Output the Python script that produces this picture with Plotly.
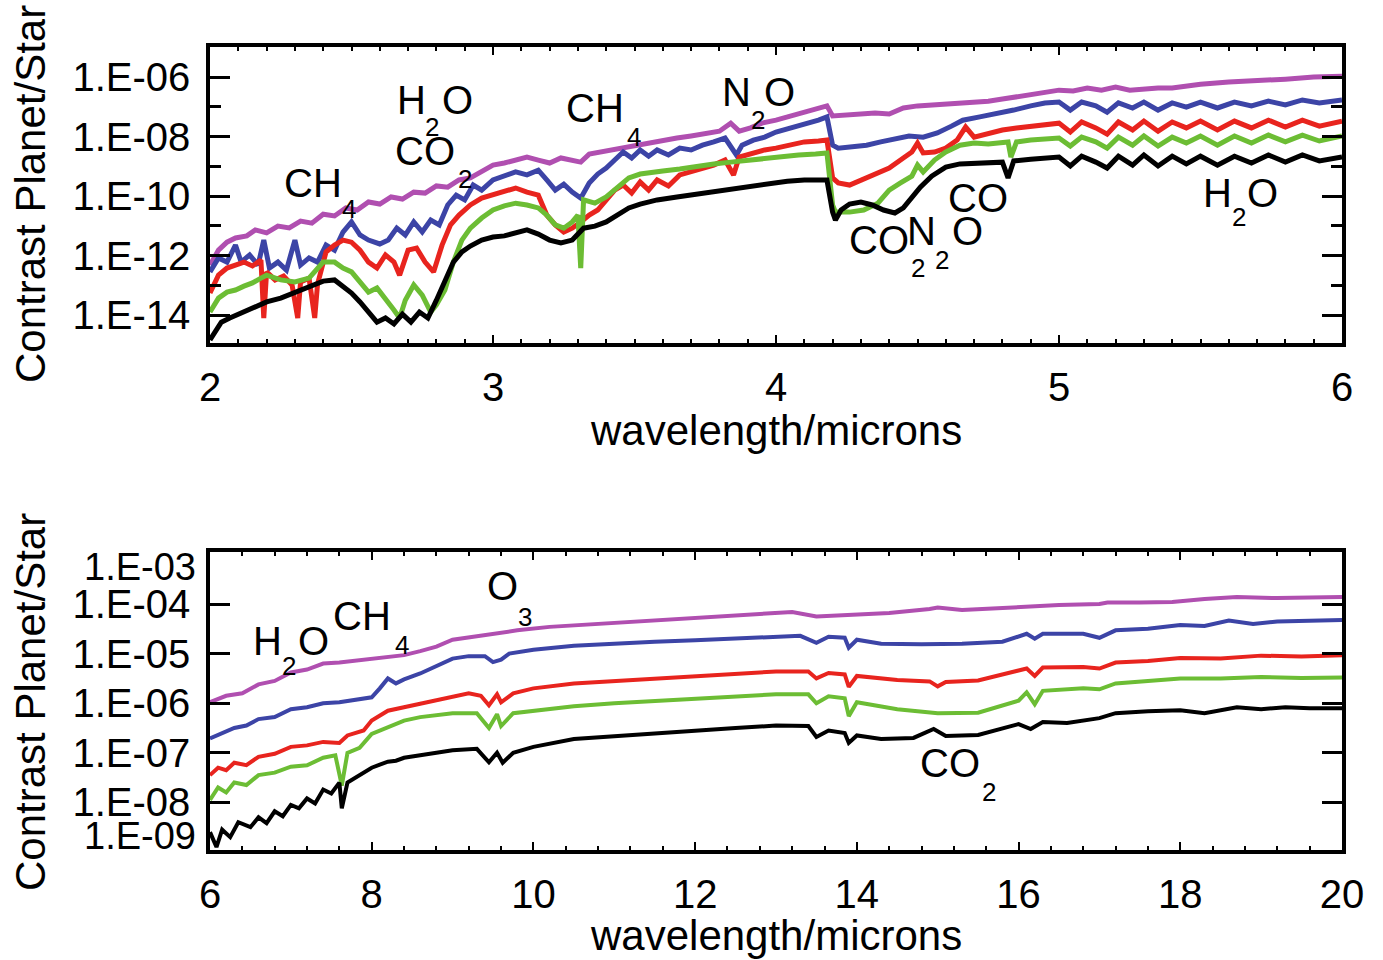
import plotly.graph_objects as go

W, H = 1383, 960
FONT = "Liberation Sans, Arial, Helvetica, sans-serif"

# ---------------- Top panel (2-6 micron): wavelength [micron], log10(contrast) ----------------
top_purple_wl = [2.00,2.03,2.06,2.09,2.13,2.16,2.20,2.24,2.28,2.32,2.36,2.40,2.44,2.48,2.52,2.56,2.60,2.64,2.68,2.72,
                 2.76,2.80,2.84,2.88,2.92,2.96,3.00,3.04,3.08,3.12,3.16,3.20,3.24,3.28,3.31,3.34,3.38,3.42,3.46,3.50,
                 3.55,3.60,3.65,3.70,3.75,3.80,3.84,3.87,3.91,3.95,4.00,4.05,4.10,4.15,4.18,4.20,4.25,4.30,4.35,4.40,
                 4.45,4.50,4.55,4.60,4.65,4.70,4.75,4.80,4.85,4.90,4.95,5.00,5.05,5.10,5.15,5.20,5.25,5.30,5.35,5.40,
                 5.45,5.50,5.60,5.70,5.80,5.90,6.00]
top_purple_log = [-12.32,-11.82,-11.55,-11.41,-11.34,-11.14,-11.24,-11.01,-11.07,-10.84,-10.91,-10.61,-10.67,-10.40,-10.47,-10.20,-10.27,-10.03,-10.10,-9.87,
                  -9.90,-9.66,-9.70,-9.46,-9.39,-9.19,-8.96,-8.89,-8.79,-8.69,-8.79,-8.89,-8.72,-8.79,-8.86,-8.59,-8.52,-8.42,-8.35,-8.29,
                  -8.22,-8.12,-8.05,-7.98,-7.88,-7.82,-7.55,-7.82,-7.71,-7.55,-7.45,-7.31,-7.21,-7.04,-6.97,-7.31,-7.28,-7.21,-7.21,-7.24,
                  -7.04,-6.97,-6.94,-6.94,-6.91,-6.87,-6.81,-6.74,-6.67,-6.57,-6.50,-6.44,-6.47,-6.37,-6.44,-6.34,-6.44,-6.40,-6.37,-6.37,
                  -6.30,-6.24,-6.17,-6.13,-6.07,-6.00,-5.97]

top_blue_wl = [2.00,2.03,2.06,2.09,2.11,2.14,2.17,2.19,2.21,2.24,2.27,2.30,2.32,2.35,2.38,2.41,2.44,2.47,2.50,2.53,
               2.56,2.60,2.63,2.66,2.69,2.72,2.75,2.78,2.81,2.84,2.87,2.90,2.93,2.96,3.00,3.04,3.08,3.12,3.16,3.19,
               3.22,3.25,3.28,3.31,3.34,3.37,3.40,3.43,3.46,3.49,3.52,3.55,3.58,3.62,3.66,3.70,3.74,3.78,3.82,3.86,
               3.88,3.92,3.96,4.00,4.05,4.10,4.15,4.18,4.20,4.22,4.27,4.32,4.37,4.42,4.47,4.52,4.57,4.62,4.66,4.72,
               4.78,4.84,4.90,4.95,5.00,5.04,5.08,5.13,5.17,5.21,5.26,5.30,5.35,5.40,5.45,5.50,5.56,5.62,5.68,5.74,
               5.80,5.86,5.92,6.00]
top_blue_log = [-12.55,-12.08,-12.22,-11.65,-12.22,-11.98,-12.32,-11.48,-12.42,-12.22,-12.49,-11.48,-12.32,-12.08,-12.22,-11.65,-11.82,-11.21,-10.87,-11.31,
                -11.48,-11.61,-11.48,-11.08,-11.31,-10.87,-11.21,-10.81,-10.97,-10.30,-9.97,-10.13,-9.63,-9.80,-9.46,-9.33,-9.19,-9.29,-9.13,-9.46,
                -9.80,-9.60,-9.87,-10.07,-9.56,-9.26,-9.06,-8.79,-8.52,-8.72,-8.45,-8.66,-8.45,-8.62,-8.39,-8.45,-8.29,-8.18,-8.05,-8.62,
                -8.29,-8.12,-8.02,-7.85,-7.71,-7.61,-7.45,-7.34,-8.29,-8.39,-8.35,-8.29,-8.18,-8.08,-7.98,-8.02,-7.88,-7.65,-7.45,-7.34,
                -7.24,-7.11,-6.97,-6.87,-6.84,-7.11,-6.84,-6.97,-7.18,-6.87,-7.04,-6.84,-7.11,-6.87,-7.01,-6.84,-7.04,-6.84,-6.97,-6.81,
                -6.94,-6.77,-6.87,-6.77]

top_red_wl = [2.00,2.03,2.06,2.09,2.12,2.15,2.18,2.19,2.20,2.23,2.26,2.29,2.31,2.32,2.35,2.37,2.38,2.41,2.44,2.47,
              2.50,2.53,2.56,2.59,2.62,2.65,2.67,2.70,2.73,2.76,2.79,2.82,2.85,2.88,2.92,2.96,3.00,3.04,3.08,3.12,
              3.16,3.19,3.22,3.25,3.28,3.31,3.34,3.37,3.40,3.43,3.46,3.49,3.52,3.55,3.58,3.62,3.66,3.70,3.74,3.78,
              3.82,3.85,3.87,3.92,3.96,4.00,4.05,4.10,4.15,4.18,4.20,4.22,4.26,4.30,4.35,4.40,4.45,4.48,4.50,4.52,
              4.56,4.60,4.64,4.67,4.70,4.75,4.80,4.85,4.90,4.95,5.00,5.04,5.08,5.13,5.17,5.21,5.26,5.30,5.35,5.40,
              5.45,5.50,5.56,5.62,5.68,5.74,5.80,5.86,5.92,6.00]
top_red_log = [-13.26,-12.66,-12.42,-12.32,-12.22,-12.35,-12.15,-14.10,-12.55,-12.82,-12.69,-12.99,-14.10,-12.89,-12.76,-14.10,-12.96,-11.88,-11.65,-11.48,
               -11.55,-11.82,-12.22,-12.42,-11.98,-12.22,-12.66,-11.82,-11.75,-12.22,-12.55,-11.65,-10.97,-10.64,-10.30,-10.07,-9.97,-9.87,-9.73,-9.87,
               -9.97,-10.64,-10.97,-11.21,-11.08,-10.87,-10.64,-10.47,-10.13,-9.80,-9.63,-9.90,-9.53,-9.80,-9.46,-9.66,-9.29,-9.19,-9.06,-8.96,
               -8.79,-9.29,-8.69,-8.55,-8.45,-8.39,-8.29,-8.18,-8.15,-8.12,-9.39,-9.56,-9.63,-9.46,-9.29,-9.06,-8.72,-8.52,-8.22,-8.55,
               -8.52,-8.39,-8.12,-7.68,-8.02,-7.88,-7.78,-7.71,-7.65,-7.58,-7.55,-7.85,-7.51,-7.71,-7.92,-7.51,-7.78,-7.48,-7.82,-7.51,
               -7.71,-7.48,-7.78,-7.48,-7.71,-7.45,-7.68,-7.45,-7.65,-7.48]

top_green_wl = [2.00,2.03,2.06,2.09,2.12,2.15,2.18,2.20,2.25,2.30,2.35,2.40,2.44,2.47,2.50,2.53,2.56,2.59,2.62,2.65,
                2.67,2.69,2.72,2.75,2.78,2.80,2.83,2.86,2.89,2.92,2.96,3.00,3.04,3.08,3.12,3.16,3.19,3.22,3.25,3.28,
                3.30,3.31,3.32,3.36,3.40,3.44,3.48,3.52,3.56,3.60,3.66,3.72,3.78,3.84,3.90,3.96,4.02,4.08,4.14,4.18,
                4.20,4.21,4.26,4.31,4.36,4.40,4.44,4.48,4.50,4.52,4.56,4.60,4.65,4.70,4.75,4.80,4.82,4.83,4.85,4.90,
                4.95,5.00,5.04,5.08,5.13,5.17,5.21,5.26,5.30,5.35,5.40,5.45,5.50,5.56,5.62,5.68,5.74,5.80,5.86,5.92,
                6.00]
top_green_log = [-13.90,-13.43,-13.23,-13.16,-13.03,-12.92,-12.76,-12.66,-12.82,-12.89,-12.76,-12.22,-12.22,-12.42,-12.55,-12.89,-13.23,-13.09,-13.43,-13.83,
                 -14.10,-13.50,-12.99,-13.33,-13.90,-13.66,-13.16,-12.22,-11.48,-11.08,-10.74,-10.47,-10.33,-10.24,-10.30,-10.40,-10.64,-10.97,-11.08,-10.87,
                 -10.64,-12.42,-10.13,-10.24,-10.03,-9.73,-9.39,-9.26,-9.19,-9.16,-9.09,-8.99,-8.92,-8.86,-8.79,-8.72,-8.66,-8.62,-8.59,-8.55,
                 -10.30,-10.54,-10.54,-10.47,-10.24,-9.80,-9.56,-9.33,-8.96,-9.19,-8.79,-8.52,-8.29,-8.22,-8.25,-8.22,-8.18,-8.69,-8.18,-8.12,
                 -8.08,-8.05,-8.32,-8.02,-8.18,-8.39,-8.02,-8.29,-7.98,-8.32,-8.02,-8.22,-7.98,-8.29,-7.98,-8.22,-7.95,-8.18,-7.95,-8.15,
                 -7.98]

top_black_wl = [2.00,2.02,2.04,2.07,2.10,2.15,2.20,2.25,2.30,2.35,2.40,2.44,2.47,2.50,2.53,2.56,2.59,2.62,2.65,2.68,
                2.71,2.74,2.77,2.80,2.83,2.86,2.89,2.92,2.96,3.00,3.04,3.08,3.12,3.16,3.20,3.24,3.28,3.32,3.36,3.40,
                3.44,3.48,3.52,3.58,3.65,3.72,3.80,3.88,3.96,4.04,4.10,4.18,4.20,4.21,4.23,4.26,4.30,4.34,4.38,4.42,
                4.45,4.48,4.51,4.55,4.60,4.65,4.70,4.75,4.80,4.82,4.84,4.90,4.95,5.00,5.04,5.08,5.13,5.17,5.21,5.26,
                5.30,5.35,5.40,5.45,5.50,5.56,5.62,5.68,5.74,5.80,5.86,5.92,6.00]
top_black_log = [-14.84,-14.50,-14.24,-14.10,-13.97,-13.77,-13.56,-13.43,-13.23,-13.03,-12.86,-12.82,-13.03,-13.26,-13.56,-13.90,-14.24,-14.10,-14.30,-13.97,
                 -14.24,-13.90,-14.10,-13.50,-12.82,-12.22,-11.88,-11.68,-11.48,-11.38,-11.34,-11.24,-11.14,-11.28,-11.48,-11.58,-11.48,-11.08,-11.01,-10.87,
                 -10.64,-10.40,-10.27,-10.13,-10.03,-9.93,-9.80,-9.70,-9.60,-9.50,-9.46,-9.46,-10.54,-10.81,-10.47,-10.27,-10.20,-10.30,-10.47,-10.57,
                 -10.40,-10.07,-9.70,-9.33,-9.03,-8.92,-8.89,-8.89,-8.86,-9.39,-8.82,-8.76,-8.72,-8.69,-8.99,-8.66,-8.86,-9.06,-8.66,-8.96,
                 -8.62,-8.99,-8.66,-8.92,-8.66,-8.96,-8.66,-8.89,-8.62,-8.86,-8.62,-8.82,-8.69]

# ---------------- Bottom panel (6-20 micron) ----------------
bot_purple_wl = [6.0,6.2,6.4,6.6,6.8,7.0,7.2,7.4,7.6,7.8,8.0,8.2,8.4,8.6,8.8,9.0,9.2,9.4,9.6,9.8,
                 10.2,10.6,11.0,11.4,11.8,12.2,12.6,13.0,13.2,13.5,13.8,14.0,14.4,14.9,15.0,15.3,15.7,16.1,16.5,
                 17.0,17.1,17.5,17.9,18.3,18.7,19.2,19.6,20.0]
bot_purple_log = [-5.98,-5.85,-5.80,-5.62,-5.55,-5.38,-5.32,-5.20,-5.18,-5.14,-5.12,-5.06,-5.03,-4.95,-4.86,-4.72,-4.67,-4.63,-4.57,-4.53,
                  -4.46,-4.42,-4.36,-4.32,-4.28,-4.26,-4.22,-4.17,-4.16,-4.25,-4.22,-4.22,-4.18,-4.10,-4.07,-4.12,-4.08,-4.05,-4.02,
                  -4.00,-3.97,-3.97,-3.96,-3.90,-3.86,-3.88,-3.86,-3.86]

bot_blue_wl = [6.0,6.15,6.3,6.45,6.6,6.8,7.0,7.2,7.4,7.6,7.8,8.0,8.1,8.2,8.3,8.4,8.6,8.8,9.0,9.2,
               9.4,9.5,9.6,9.7,10.0,10.5,11.0,11.5,12.0,12.5,13.0,13.3,13.5,13.65,13.85,13.9,14.0,14.3,14.8,15.3,
               15.8,16.1,16.2,16.3,16.8,17.0,17.2,17.6,18.0,18.3,18.6,18.9,19.2,19.6,20.0]
bot_blue_log = [-6.71,-6.60,-6.50,-6.45,-6.32,-6.28,-6.12,-6.08,-6.00,-5.98,-5.92,-5.88,-5.70,-5.50,-5.60,-5.52,-5.40,-5.25,-5.10,-5.05,
                -5.05,-5.17,-5.12,-5.00,-4.92,-4.84,-4.79,-4.76,-4.73,-4.69,-4.65,-4.64,-4.78,-4.66,-4.68,-4.88,-4.72,-4.80,-4.81,-4.80,
                -4.76,-4.60,-4.70,-4.60,-4.60,-4.68,-4.53,-4.50,-4.42,-4.44,-4.33,-4.40,-4.35,-4.34,-4.32]

bot_red_wl = [6.0,6.1,6.2,6.3,6.45,6.6,6.8,7.0,7.2,7.4,7.6,7.7,7.9,8.0,8.2,8.4,8.6,8.8,9.0,9.2,
              9.35,9.45,9.55,9.6,9.75,10.0,10.5,11.0,11.5,12.0,12.5,13.0,13.4,13.5,13.65,13.85,13.9,14.0,14.5,14.9,
              15.0,15.1,15.5,16.0,16.1,16.2,16.3,16.8,17.0,17.2,17.6,18.0,18.5,19.0,19.5,20.0]
bot_red_log = [-7.45,-7.30,-7.35,-7.20,-7.25,-7.08,-7.02,-6.88,-6.85,-6.78,-6.80,-6.65,-6.55,-6.35,-6.15,-6.08,-6.00,-5.92,-5.86,-5.80,
               -5.85,-6.04,-5.82,-5.98,-5.80,-5.70,-5.60,-5.55,-5.49,-5.45,-5.41,-5.36,-5.36,-5.50,-5.39,-5.42,-5.67,-5.45,-5.53,-5.56,
               -5.66,-5.57,-5.54,-5.35,-5.30,-5.45,-5.28,-5.27,-5.30,-5.18,-5.15,-5.09,-5.10,-5.04,-5.06,-5.03]

bot_green_wl = [6.0,6.1,6.2,6.3,6.45,6.6,6.8,7.0,7.2,7.4,7.55,7.63,7.7,7.85,8.0,8.2,8.4,8.6,8.8,9.0,
                9.3,9.45,9.55,9.6,9.75,10.0,10.5,11.0,11.5,12.0,12.5,13.0,13.4,13.5,13.65,13.85,13.9,14.0,14.5,15.0,
                15.5,16.0,16.1,16.2,16.3,16.8,17.0,17.2,17.6,18.0,18.5,19.0,19.5,20.0]
bot_green_log = [-7.95,-7.70,-7.80,-7.60,-7.65,-7.45,-7.40,-7.28,-7.25,-7.10,-7.05,-7.66,-7.00,-6.90,-6.62,-6.48,-6.35,-6.28,-6.24,-6.20,
                 -6.20,-6.50,-6.22,-6.46,-6.20,-6.15,-6.06,-6.00,-5.96,-5.92,-5.88,-5.82,-5.82,-6.00,-5.86,-5.90,-6.26,-5.98,-6.12,-6.20,
                 -6.19,-5.95,-5.78,-6.02,-5.75,-5.70,-5.72,-5.60,-5.55,-5.50,-5.50,-5.47,-5.49,-5.48]

bot_black_wl = [6.0,6.08,6.15,6.25,6.35,6.5,6.6,6.7,6.8,6.9,7.0,7.1,7.2,7.3,7.4,7.5,7.6,7.63,7.7,7.85,
                8.0,8.1,8.2,8.3,8.4,8.6,8.8,9.0,9.3,9.45,9.55,9.62,9.75,10.0,10.5,11.0,11.5,12.0,12.5,13.0,
                13.4,13.5,13.65,13.85,13.9,14.0,14.3,14.7,14.95,15.1,15.5,16.0,16.15,16.3,16.6,17.0,17.2,17.6,18.0,18.3,
                18.7,19.0,19.3,19.6,20.0]
bot_black_log = [-8.60,-8.90,-8.55,-8.70,-8.40,-8.50,-8.30,-8.42,-8.18,-8.28,-8.05,-8.12,-7.92,-8.02,-7.74,-7.82,-7.60,-8.12,-7.60,-7.45,
                 -7.30,-7.24,-7.18,-7.16,-7.10,-7.05,-7.00,-6.95,-6.92,-7.19,-7.00,-7.20,-7.00,-6.88,-6.72,-6.66,-6.60,-6.56,-6.50,-6.45,
                 -6.46,-6.68,-6.55,-6.60,-6.80,-6.65,-6.72,-6.70,-6.52,-6.66,-6.64,-6.42,-6.52,-6.38,-6.40,-6.30,-6.20,-6.16,-6.14,-6.20,
                 -6.08,-6.12,-6.08,-6.10,-6.10]

COLORS = {"purple": "#b04fb0", "blue": "#3c44a6", "red": "#e8241e", "green": "#6cbd34", "black": "#000000"}

top_series = [("purple", top_purple_wl, top_purple_log), ("blue", top_blue_wl, top_blue_log),
              ("red", top_red_wl, top_red_log), ("green", top_green_wl, top_green_log),
              ("black", top_black_wl, top_black_log)]
bot_series = [("purple", bot_purple_wl, bot_purple_log), ("blue", bot_blue_wl, bot_blue_log),
              ("red", bot_red_wl, bot_red_log), ("green", bot_green_wl, bot_green_log),
              ("black", bot_black_wl, bot_black_log)]

top_yticks = [1e-14, 1e-12, 1e-10, 1e-8, 1e-6]
top_yticktext = ["1.E-14", "1.E-12", "1.E-10", "1.E-08", "1.E-06"]
top_yminor = [1e-13, 1e-11, 1e-9, 1e-7]
bot_yticks = [1e-8, 1e-7, 1e-6, 1e-5, 1e-4]
bot_yticktext = ["1.E-08", "1.E-07", "1.E-06", "1.E-05", "1.E-04"]
top_xticks = [2, 3, 4, 5, 6]
bot_xticks = [6, 8, 10, 12, 14, 16, 18, 20]

fig = go.Figure()
for name, wl, lg in top_series:
    n = min(len(wl), len(lg))
    fig.add_trace(go.Scatter(x=wl[:n], y=[10 ** v for v in lg[:n]], mode="lines",
                             line=dict(color=COLORS[name], width=5), xaxis="x", yaxis="y",
                             showlegend=False, hoverinfo="skip"))
for name, wl, lg in bot_series:
    n = min(len(wl), len(lg))
    fig.add_trace(go.Scatter(x=wl[:n], y=[10 ** v for v in lg[:n]], mode="lines",
                             line=dict(color=COLORS[name], width=4), xaxis="x2", yaxis="y2",
                             showlegend=False, hoverinfo="skip"))

common = dict(showline=True, linecolor="black", linewidth=3.5, mirror="ticks", ticks="inside",
              tickcolor="black", showgrid=False, zeroline=False, automargin=False,
              tickfont=dict(family=FONT, size=40, color="black"))

def px(x):
    return x / W

def py(y):
    return 1 - y / H

fig.update_layout(
    width=W, height=H, margin=dict(l=0, r=0, t=0, b=0, pad=0), autosize=False,
    paper_bgcolor="white", plot_bgcolor="white", showlegend=False,
    font=dict(family=FONT, color="black"),
    xaxis=dict(domain=[px(210), px(1342)], range=[2, 6], anchor="y", tickmode="array",
               tickvals=top_xticks, ticklen=8, tickwidth=2, ticklabelstandoff=6,
               minor=dict(dtick=0.1, tick0=2, ticklen=4, ticks="inside", tickcolor="black", tickwidth=1.5),
               **common),
    yaxis=dict(domain=[py(343), py(47)], type="log", range=[-14.94, -4.99], anchor="x",
               tickmode="array", tickvals=top_yticks, ticktext=top_yticktext, ticklen=20, tickwidth=2.5,
               ticklabelstandoff=8,
               minor=dict(tickmode="array", tickvals=top_yminor, ticklen=11, ticks="inside",
                          tickcolor="black", tickwidth=2.5),
               **common),
    xaxis2=dict(domain=[px(210), px(1342)], range=[6, 20], anchor="y2", tickmode="array",
                tickvals=bot_xticks, ticklen=8, tickwidth=2, ticklabelstandoff=6,
                minor=dict(dtick=0.4, tick0=6, ticklen=4, ticks="inside", tickcolor="black", tickwidth=1.5),
                **common),
    yaxis2=dict(domain=[py(850), py(552)], type="log", range=[-8.96, -2.95], anchor="x2",
                tickmode="array", tickvals=bot_yticks, ticktext=bot_yticktext, ticklen=20, tickwidth=2.5,
                ticklabelstandoff=8, **common),
)

ann = []
# axis titles
for yc in (194, 702):
    ann.append(dict(text="Contrast Planet/Star", x=px(30), y=py(yc), xref="paper", yref="paper",
                    textangle=-90, showarrow=False, xanchor="center", yanchor="middle",
                    font=dict(family=FONT, size=42, color="black")))
for yc in (430, 935):
    ann.append(dict(text="wavelength/microns", x=px(776), y=py(yc), xref="paper", yref="paper",
                    showarrow=False, xanchor="center", yanchor="middle",
                    font=dict(family=FONT, size=42, color="black")))
# shifted end labels of the lower y axis (as in the original)
for t, yc in (("1.E-03", 567), ("1.E-09", 836)):
    ann.append(dict(text=t, x=px(198), y=py(yc), xref="paper", yref="paper", showarrow=False,
                    xanchor="right", yanchor="middle", font=dict(family=FONT, size=38, color="black")))

# molecule labels: (text, left px, center px, font size)
molecule_labels = [
    ("CH", 283, 183, 40), ("4", 341, 209, 26),
    ("H", 396, 100, 40), ("2", 424, 127, 26), ("O", 441, 100, 40),
    ("CO", 394, 151, 40), ("2", 457, 179, 26),
    ("CH", 565, 108, 40), ("4", 626, 137, 26),
    ("N", 721, 92, 40), ("2", 750, 120, 26), ("O", 763, 92, 40),
    ("CO", 848, 240, 40), ("2", 910, 268, 26),
    ("N", 906, 231, 40), ("2", 934, 260, 26), ("O", 951, 231, 40),
    ("CO", 947, 198, 40),
    ("H", 1202, 193, 40), ("2", 1231, 217, 26), ("O", 1246, 193, 40),
    ("H", 252, 641, 40), ("2", 281, 666, 26), ("O", 297, 641, 40),
    ("CH", 332, 616, 40), ("4", 394, 645, 26),
    ("O", 486, 586, 40), ("3", 517, 617, 26),
    ("CO", 919, 763, 40), ("2", 981, 792, 26),
]
for t, x0, y0, s in molecule_labels:
    ann.append(dict(text=t, x=px(x0), y=py(y0), xref="paper", yref="paper", showarrow=False,
                    xanchor="left", yanchor="middle", borderpad=0,
                    font=dict(family=FONT, size=s, color="black")))
fig.update_layout(annotations=ann)

fig.write_html("out.html", config={"displayModeBar": False},
               post_script="document.body.style.margin='0';document.body.style.padding='0';"
                           "document.body.style.overflow='hidden';")
